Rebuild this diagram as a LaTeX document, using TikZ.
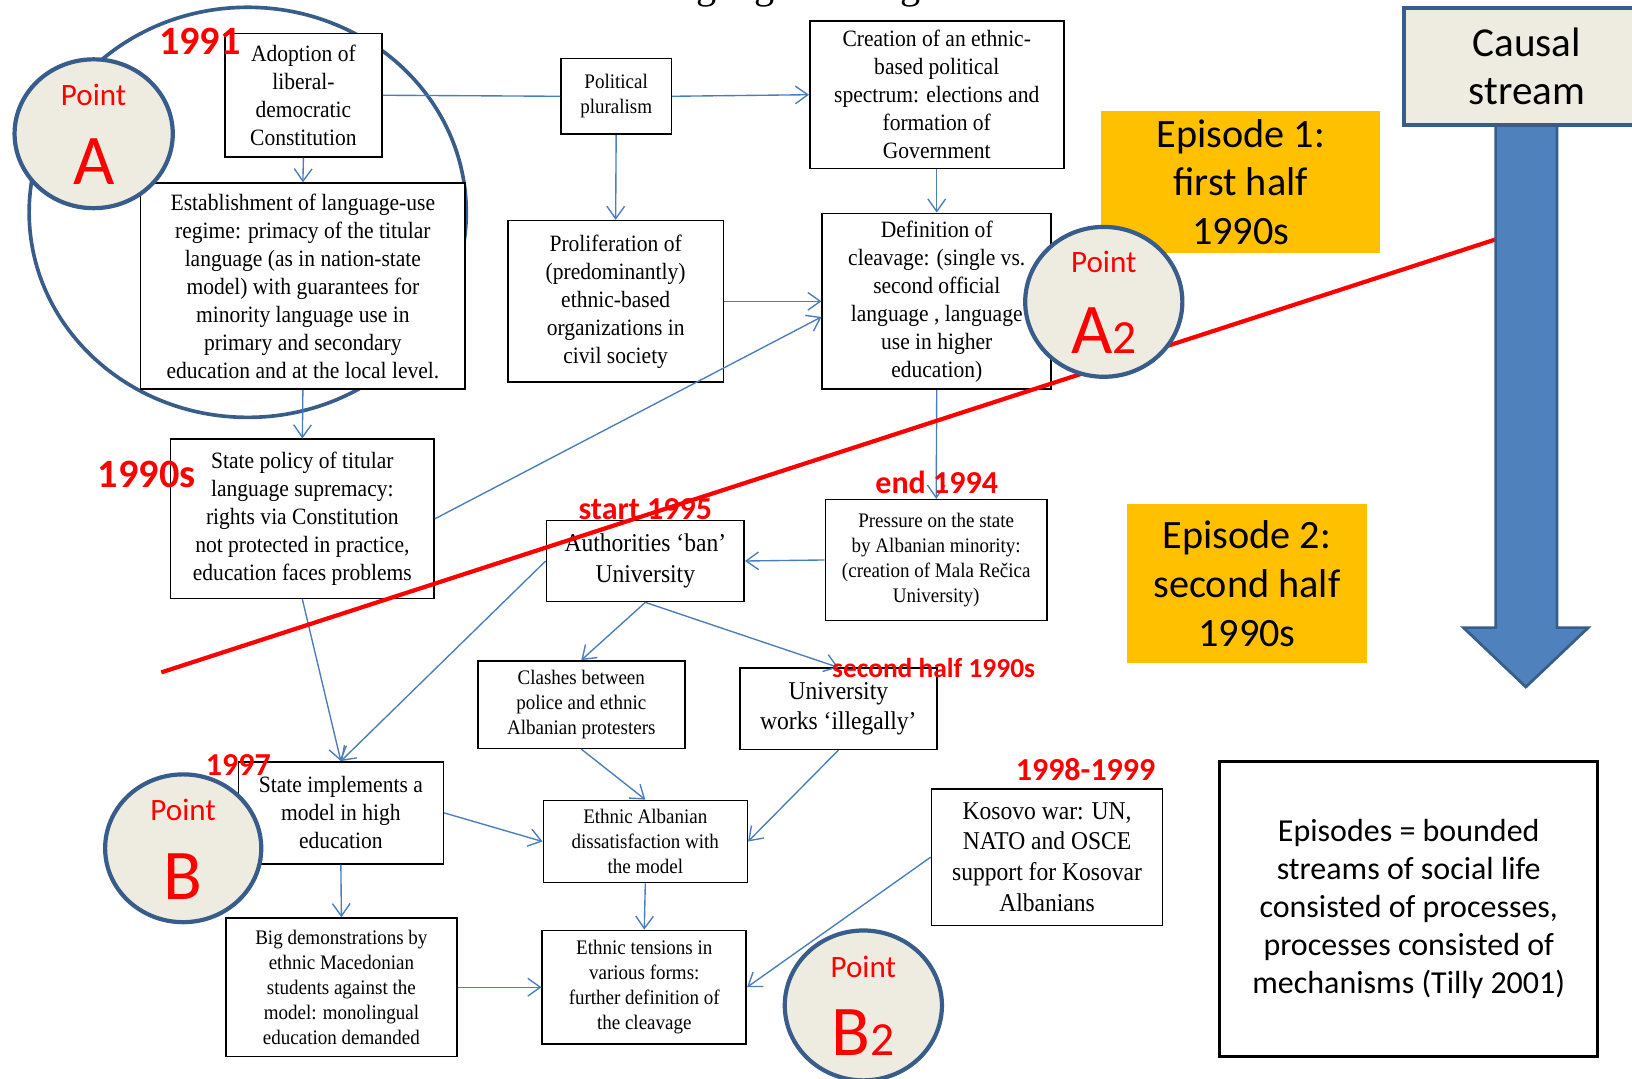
\documentclass[tikz,border=0pt]{standalone}
\usepackage{fontspec}
\newfontfamily\boxfont[FakeStretch=0.92]{Liberation Serif}
\newfontfamily\headfont{Liberation Serif}
\newfontfamily\calfont{Carlito}
\usetikzlibrary{shapes.geometric,arrows.meta,calc}
\definecolor{linkblue}{HTML}{4A7EBB}
\definecolor{rimblue}{HTML}{385D8A}
\definecolor{paper}{HTML}{EEECE1}
\definecolor{amber}{HTML}{FFC000}
\definecolor{shaftblue}{HTML}{4F81BD}
\newcommand\normtxt{\boxfont\fontsize{12.8pt}{15.3pt}\selectfont}
\newcommand\smalltxt{\boxfont\fontsize{11.3pt}{13.6pt}\selectfont}
\newcommand\largetxt{\boxfont\fontsize{14pt}{16.9pt}\selectfont}

\begin{document}
\begin{tikzpicture}[x=0.2mm,y=-0.2mm,
  >={Straight Barb[length=2.4mm,width=3.4mm]},
  event/.style={draw,fill=white,line width=0.85pt,align=center,inner sep=0pt},
  link/.style={->,draw=linkblue,line width=0.75pt},
  year/.style={text=red,font=\calfont\bfseries\fontsize{17.5pt}{17.5pt}\selectfont},
  point/.style={ellipse,draw=rimblue,fill=paper,line width=2.3pt,inner sep=0pt},
  ptword/.style={text=red,font=\calfont\fontsize{17pt}{17pt}\selectfont},
  ptletter/.style={text=red,font=\calfont\fontsize{39pt}{39pt}\selectfont},
  episode/.style={fill=amber,align=center,inner sep=0pt,font=\calfont\fontsize{22pt}{26.7pt}\selectfont}]
\useasboundingbox (0,0) rectangle (1568,1036);
\clip (0,0) rectangle (1568,1036);

\node[anchor=base,font=\headfont\fontsize{22pt}{22pt}\selectfont] (title) at (782,-1) {language-use regime};

% episode A
\node[ellipse,draw=rimblue,line width=2pt,minimum width=84mm,minimum height=78.8mm] (zoneA) at (238,204) {};

\node[event,font=\normtxt,minimum width=30.2mm,minimum height=23.8mm] (adopt) at (291.5,91.5) {Adoption of\\liberal-\\democratic\\Constitution};
\node[event,font=\normtxt,minimum width=62.4mm,minimum height=39.6mm] (regime) at (291,275) {Establishment of language-use\\regime: primacy of the titular\\language (as in nation-state\\model) with guarantees for\\minority language use in\\primary and secondary\\education and at the local level.};
\node[event,font=\smalltxt,minimum width=21.2mm,minimum height=14.6mm] (plural) at (592,92.5) {Political\\pluralism};
\node[event,font=\normtxt,minimum width=48.8mm,minimum height=28.4mm] (spectrum) at (900,91) {Creation of an ethnic-\\based political\\spectrum: elections and\\formation of\\Government};
\node[event,font=\normtxt,minimum width=41.4mm,minimum height=31mm] (prolif) at (591.5,289.5) {Proliferation of\\(predominantly)\\ethnic-based\\organizations in\\civil society};
\node[event,font=\normtxt,minimum width=44mm,minimum height=33.8mm] (cleavage) at (900,289.5) {Definition of\\cleavage: (single vs.\\second official\\language , language\\use in higher\\education)};
\node[event,font=\smalltxt,minimum width=42.6mm,minimum height=23.2mm] (pressure) at (899.5,538) {Pressure on the state\\by Albanian minority:\\(creation of Mala Rečica\\University)};
\node[event,font=\normtxt,minimum width=50.6mm,minimum height=30.6mm] (supremacy) at (290.5,498.5) {State policy of titular\\language supremacy:\\rights via Constitution\\not protected in practice,\\education faces problems};

% episode B
\node[event,font=\largetxt,minimum width=38mm,minimum height=15.6mm] (ban) at (620,539) {Authorities ‘ban’\\University};
\node[event,font=\smalltxt,minimum width=39.8mm,minimum height=16.8mm] (clashes) at (558.5,677) {Clashes between\\police and ethnic\\Albanian protesters};
\node[event,font=\largetxt,minimum width=37.8mm,minimum height=15.6mm] (illegal) at (805.5,681) {University\\works ‘illegally’};
\node[event,font=\normtxt,minimum width=39.4mm,minimum height=19.6mm] (implement) at (327.5,781) {State implements a\\model in high\\education};
\node[event,font=\smalltxt,minimum width=39.2mm,minimum height=15.8mm] (dissat) at (620,808.5) {Ethnic Albanian\\dissatisfaction with\\the model};
\node[event,font=\largetxt,minimum width=44.4mm,minimum height=26.2mm] (kosovo) at (1006,823.5) {Kosovo war: UN,\\NATO and OSCE\\support for Kosovar\\Albanians};
\node[event,font=\smalltxt,minimum width=44.4mm,minimum height=26.6mm] (demos) at (328,948.5) {Big demonstrations by\\ethnic Macedonian\\students against the\\model: monolingual\\education demanded};
\node[event,font=\smalltxt,minimum width=39.2mm,minimum height=21.8mm] (tensions) at (619,948.5) {Ethnic tensions in\\various forms:\\further definition of\\the cleavage};

\draw[draw=linkblue,line width=0.75pt] (adopt.east) -- (plural.west);
\draw[link] (plural.east) -- (spectrum.west);
\draw[link] (adopt.south) -- (regime.north);
\draw[link] (plural.south) -- (prolif.north);
\draw[link] (spectrum.south) -- (cleavage.north);
\draw[link] (prolif.east) -- (cleavage.west);
\draw[link] (supremacy.east) -- ($(cleavage.west)+(0,15)$);
\draw[link] (regime.south) -- (supremacy.north);
\draw[link] (cleavage.south) -- (pressure.north);
\draw[link] (pressure.west) -- (ban.east);
\draw[link] (ban.south) -- (clashes.north);
\draw[link] (ban.south) -- (illegal.north);
\draw[link] (ban.west) -- (implement.north);
\draw[link] (supremacy.south) -- (implement.north);
\draw[link] (implement.east) -- (dissat.west);
\draw[link] (clashes.south) -- (dissat.north);
\draw[link] (illegal.south) -- (dissat.east);
\draw[link] (implement.south) -- (demos.north);
\draw[link] (dissat.south) -- (tensions.north);
\draw[link] (demos.east) -- (tensions.west);
\draw[link] (kosovo.west) -- (tensions.east);

% the cut between the two episodes
\coordinate (cutL) at (155,646);
\coordinate (cutR) at (1437,230);
\draw[red,line width=2.3pt] (cutL) -- (cutR);

% causal stream
\draw[fill=shaftblue,draw=rimblue,line width=1.5pt] (1437,110) -- (1437,603) -- (1406,603) -- (1466,660) -- (1526,603) -- (1496,603) -- (1496,110) -- cycle;
\node[draw=rimblue,fill=paper,line width=2.3pt,minimum width=47.2mm,minimum height=22.4mm,align=center,font=\calfont\fontsize{22.5pt}{26.2pt}\selectfont] (causal) at (1467,64) {Causal\\stream};

\node[episode,minimum width=53.6mm,minimum height=27.2mm] (ep1) at (1192,175) {Episode 1:\\first half\\1990s};
\node[episode,minimum width=46mm,minimum height=30.6mm] (ep2) at (1198,560.5) {Episode 2:\\second half\\1990s};
\node[draw,line width=1.7pt,minimum width=72.6mm,minimum height=56.6mm,align=center,font=\calfont\fontsize{17.5pt}{20.8pt}\selectfont] (tilly) at (1353.5,873.5) {Episodes = bounded\\streams of social life\\consisted of processes,\\processes consisted of\\mechanisms (Tilly 2001)};

% points
\node[point,minimum width=30.4mm,minimum height=28.6mm] (pA) at (90,128.5) {};
\node[ptword] (pAw) at ($(pA)+(0,-37)$) {Point};
\node[ptletter] (pAl) at ($(pA)+(0,27)$) {A};
\node[point,minimum width=30.2mm,minimum height=28.8mm] (pA2) at (1060.5,290) {};
\node[ptword] (pA2w) at ($(pA2)+(0,-38)$) {Point};
\node[ptletter] (pA2l) at ($(pA2)+(0,28)$) {A{\fontsize{26pt}{26pt}\selectfont 2}};
\node[point,minimum width=30mm,minimum height=28.4mm] (pB) at (176,815) {};
\node[ptword] (pBw) at ($(pB)+(0,-37)$) {Point};
\node[ptletter] (pBl) at ($(pB)+(0,27)$) {B};
\node[point,minimum width=30.2mm,minimum height=28.8mm] (pB2) at (829.5,966) {};
\node[ptword] (pB2w) at ($(pB2)+(0,-37)$) {Point};
\node[ptletter] (pB2l) at ($(pB2)+(0,26)$) {B{\fontsize{26pt}{26pt}\selectfont 2}};

% years
\node[year,font=\calfont\bfseries\fontsize{22pt}{22pt}\selectfont] (y1991) at (192,40) {1991};
\node[year,font=\calfont\bfseries\fontsize{22pt}{22pt}\selectfont] (y1990s) at (141,456) {1990s};
\node[year] (ystart) at (620,489) {start 1995};
\node[year] (yend) at (900,463) {end 1994};
\node[year,font=\calfont\bfseries\fontsize{15pt}{15pt}\selectfont] (yhalf) at (897,642) {second half 1990s};
\node[year] (y1997) at (229,735) {1997};
\node[year] (ywar) at (1043,739) {1998-1999};
\end{tikzpicture}
\end{document}
